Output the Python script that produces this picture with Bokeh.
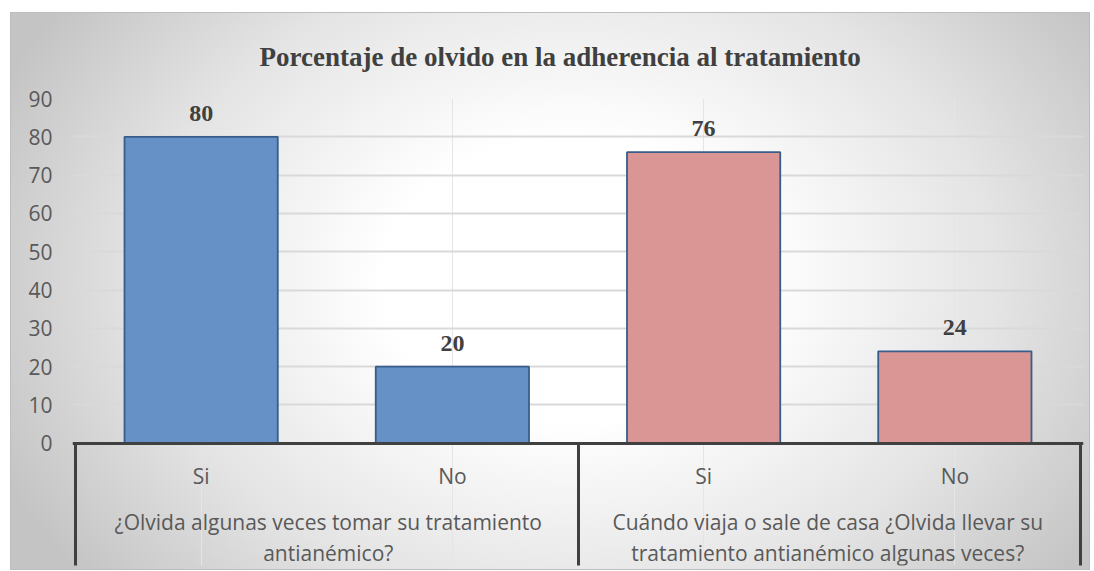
import textwrap
from bokeh.plotting import figure
from bokeh.models import (FactorRange, Range1d, LinearAxis, CategoricalAxis,
                          FixedTicker, ColumnDataSource, LabelSet)
from bokeh.core.properties import value
from bokeh.embed import file_html
from bokeh.resources import INLINE

# ---------------- data ----------------
title_text = "Porcentaje de olvido en la adherencia al tratamiento"
groups = [
    "¿Olvida algunas veces tomar su tratamiento antianémico?",
    "Cuándo viaja o sale de casa ¿Olvida llevar su tratamiento antianémico algunas veces?",
]
answers = ["Si", "No"]
values_g1 = [80, 20]
values_g2 = [76, 24]
y_ticks = [0, 10, 20, 30, 40, 50, 60, 70, 80, 90]
group_colors = ["#6591C7", "#DA9694"]

# ---------------- derived ----------------
group_labels = [textwrap.fill(g, 45) for g in groups]
factors = [(gl, a) for gl in group_labels for a in answers]
tops = values_g1 + values_g2
colors = [c for c in group_colors for _ in answers]
source = ColumnDataSource(dict(x=factors, top=tops, color=colors,
                               label=[str(v) for v in tops]))

# group boundaries in the factor range's synthetic coordinates
sep_ticks = [0]
for _ in groups:
    sep_ticks.append(sep_ticks[-1] + len(answers))

FONT = "Open Sans"
TXT = "#595959"
PAD = 0.012          # tiny padding so the edge separators are not clipped
Y_LOW = -31.9        # room below zero for the category label block

x_range = FactorRange(factors=factors, factor_padding=0, subgroup_padding=0,
                      group_padding=0, range_padding=PAD,
                      range_padding_units="absolute")
p = figure(width=1080, height=558, x_range=x_range, y_range=Range1d(Y_LOW, y_ticks[-1]),
           output_backend="svg", toolbar_location=None,
           x_axis_location=None, y_axis_location="left",
           min_border_left=62, min_border_right=7, min_border_top=85,
           min_border_bottom=5, title=title_text)
p.margin = (12, 0, 0, 10)

p.styles = {
    "background": "radial-gradient(ellipse 58% 85% at 52% 48%, #ffffff 0%, #ffffff 30%, #e4e4e4 68%, #c4c4c4 100%)",
    "box-shadow": "inset 0 0 0 1px #bdbdbd",
}
p.border_fill_color = None
p.background_fill_color = None
p.outline_line_color = None

# title
p.title.align = "left"
p.title.offset = 187
p.title.standoff = 54
p.title.text_font = "Liberation Serif"
p.title.text_font_style = "bold"
p.title.text_font_size = "27px"
p.title.text_color = "#404040"

# y axis and grid
p.yaxis.ticker = FixedTicker(ticks=y_ticks)
p.yaxis.axis_line_color = None
p.yaxis.major_tick_line_color = None
p.yaxis.minor_tick_line_color = None
p.yaxis.major_tick_in = 0
p.yaxis.major_tick_out = 0
p.yaxis.major_label_standoff = 20
p.yaxis.major_label_text_font = FONT
p.yaxis.major_label_text_font_size = "21px"
p.yaxis.major_label_text_color = TXT
p.ygrid.ticker = FixedTicker(ticks=y_ticks)
p.ygrid.grid_line_color = "#d9d9d9"
p.ygrid.grid_line_width = 2

# bars
p.vbar(x="x", top="top", width=0.61, source=source, fill_color="color",
       line_color="#385D8A", line_width=1.8)

p.add_layout(LabelSet(x="x", y="top", text="label", source=source,
                      y_offset=16, text_align="center", text_baseline="alphabetic",
                      text_font=value("Liberation Serif"), text_font_style="bold",
                      text_font_size="24px", text_color="#404040"))

p.extra_x_ranges = {"grp": FactorRange(factors=group_labels, range_padding=PAD,
                                       range_padding_units="absolute")}

sep_axis = LinearAxis(fixed_location=0,
                      ticker=FixedTicker(ticks=sep_ticks),
                      axis_line_color="#404040", axis_line_width=3,
                      major_tick_line_color="#404040", major_tick_line_width=3,
                      major_tick_in=0, major_tick_out=130,
                      minor_tick_line_color=None,
                      major_label_text_color=None)
p.add_layout(sep_axis, "below")

ans_axis = CategoricalAxis(fixed_location=0, axis_line_color=None,
                           major_tick_line_color=None, major_tick_in=0,
                           major_tick_out=0, major_label_standoff=19,
                           major_label_text_font=FONT,
                           major_label_text_font_size="21px",
                           major_label_text_color=TXT,
                           group_text_color=None, separator_line_color=None)
p.add_layout(ans_axis, "below")

grp_axis = CategoricalAxis(x_range_name="grp", fixed_location=0,
                           axis_line_color=None, major_tick_line_color=None,
                           major_tick_in=0, major_tick_out=0,
                           major_label_standoff=65,
                           major_label_text_font=FONT,
                           major_label_text_font_size="21px",
                           major_label_text_line_height=1.1,
                           major_label_text_color=TXT)
p.add_layout(grp_axis, "below")

open("out.html", "w").write(file_html(p, INLINE))
